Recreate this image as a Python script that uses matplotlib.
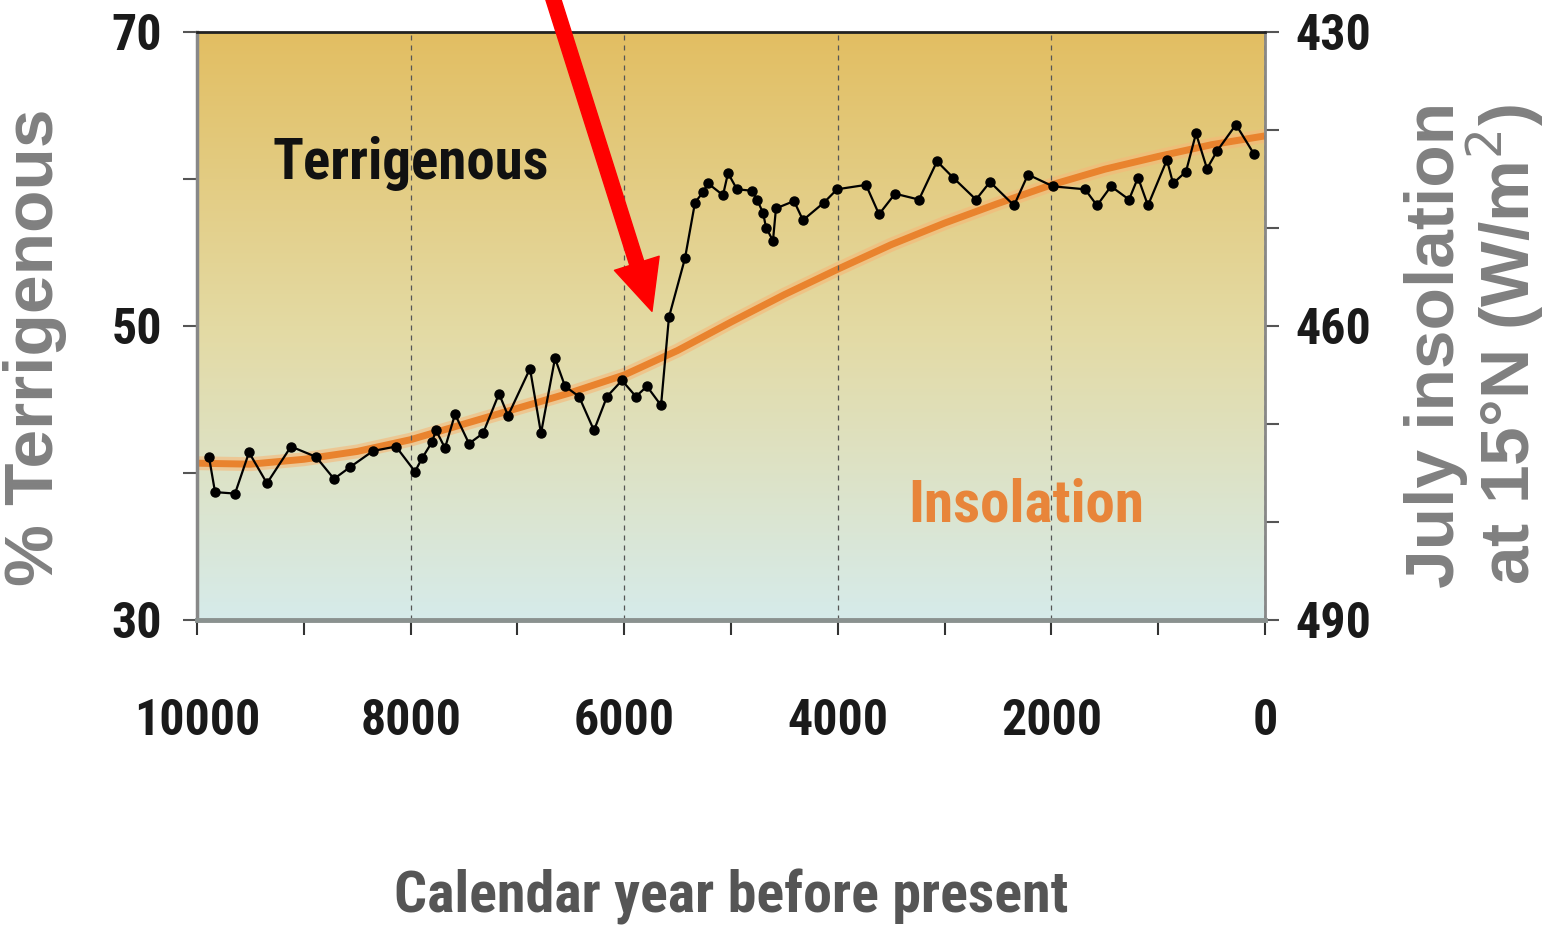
import matplotlib
matplotlib.use("Agg")
import matplotlib.pyplot as plt
import numpy as np
from matplotlib import font_manager

# Terrigenous % record vs. July insolation at 15N (last 10 kyr)

years = [9888, 9831, 9644, 9513, 9345, 9120, 8886, 8717, 8567, 8352,
         8137, 7959, 7893, 7800, 7762, 7678, 7584, 7453, 7322, 7172,
         7088, 6882, 6779, 6648, 6554, 6423, 6283, 6161, 6021, 5890,
         5787, 5655, 5581, 5431, 5337, 5262, 5215, 5075, 5028, 4944,
         4803, 4757, 4700, 4672, 4607, 4579, 4410, 4326, 4129, 4007,
         3736, 3614, 3464, 3240, 3071, 2921, 2706, 2575, 2350, 2219,
         1985, 1685, 1573, 1442, 1273, 1189, 1096, 918, 861, 740,
         646, 543, 449, 272, 103]
terrigenous = [41.1, 38.7, 38.6, 41.4, 39.3, 41.8, 41.1, 39.6, 40.4, 41.5,
               41.8, 40.1, 41.0, 42.1, 42.9, 41.7, 44.0, 42.0, 42.7, 45.4,
               43.9, 47.1, 42.7, 47.8, 45.9, 45.2, 42.9, 45.2, 46.3, 45.2,
               45.9, 44.6, 50.6, 54.6, 58.4, 59.1, 59.7, 58.9, 60.4, 59.3,
               59.2, 58.6, 57.7, 56.7, 55.8, 58.0, 58.5, 57.2, 58.4, 59.3,
               59.6, 57.6, 59.0, 58.6, 61.2, 60.1, 58.6, 59.8, 58.2, 60.3,
               59.5, 59.3, 58.2, 59.5, 58.6, 60.1, 58.2, 61.3, 59.7, 60.5,
               63.1, 60.7, 61.9, 63.7, 61.7]

ins_years = [10000, 9500, 9000, 8500, 8000, 7500, 7000, 6500, 6000, 5500,
             5000, 4500, 4000, 3500, 3000, 2500, 2000, 1500, 1000, 500, 0]
insolation = [474.0, 474.1, 473.6, 472.8, 471.6, 470.0, 468.4, 466.8, 465.0, 462.5,
              459.6, 456.8, 454.2, 451.7, 449.5, 447.5, 445.6, 444.0, 442.7, 441.5, 440.6]

left_ticks = [30, 40, 50, 60, 70]
left_labels = ["30", "", "50", "", "70"]
right_ticks = [430, 440, 450, 460, 470, 480, 490]
right_labels = ["430", "", "", "460", "", "", "490"]


def pick_narrow_font():
    # narrow bold face like the original Helvetica Condensed
    prefs = ["Liberation Sans Narrow", "Roboto Condensed", "Arimo Narrow",
             "Archivo Narrow", "Asap Condensed", "Barlow Semi Condensed"]
    faces = font_manager.fontManager.ttflist

    def wv(w):
        return 700 if w == "bold" else (400 if isinstance(w, str) else w)
    for name in prefs:
        got = [f for f in faces if f.name == name and f.style == "normal"]
        if got:
            got.sort(key=lambda f: abs(wv(f.weight) - 700))
            return font_manager.FontProperties(fname=got[0].fname)
    return font_manager.FontProperties(family="DejaVu Sans", stretch="condensed", weight="bold")


narrow_fp = pick_narrow_font()


def nfp(size):
    p = narrow_fp.copy()
    p.set_size(size)
    return p


fig = plt.figure(figsize=(15.44, 9.36), dpi=100)
renderer = fig.canvas.get_renderer()


def fit_size(s, width_px, size0=40):
    # font size that gives the text about the width it has in the original
    t = fig.text(0, 0, s, fontproperties=nfp(size0))
    w = t.get_window_extent(renderer).width
    t.remove()
    return 1.07 * size0 * width_px / w


tick_size = fit_size("10000", 118)

pos = [197 / 1544, 1 - 620 / 936, (1265 - 197) / 1544, (620 - 32) / 936]

# background gradient (gold on top, pale cyan at bottom)
bg = fig.add_axes(pos, zorder=0)
stops = np.array([[214, 235, 234], [228, 218, 163], [226, 190, 98]]) / 255
t = np.linspace(0, 1, 256)
grad = np.stack([np.interp(t, [0, 0.5, 1], stops[:, k]) for k in range(3)], axis=-1)
bg.imshow(grad[:, None, :], extent=[0, 1, 0, 1], aspect="auto", origin="lower")
bg.axis("off")

ax = fig.add_axes(pos)
ax2 = ax.twinx()
ax.set_zorder(3)
ax2.set_zorder(2)
ax.patch.set_visible(False)
ax2.patch.set_visible(False)

# insolation curve (right axis, inverted)
ax2.plot(ins_years, insolation, color="#f7b777", lw=10, alpha=0.6, solid_capstyle="butt")
ax2.plot(ins_years, insolation, color="#e9832e", lw=5, solid_capstyle="butt")
ax2.set_ylim(490, 430)
ax2.set_yticks(right_ticks)
ax2.set_yticklabels(right_labels)

# terrigenous record
ax.plot(years, terrigenous, color="black", lw=1.6, marker="o", markersize=6.5)
ax.set_xlim(10000, 0)
ax.set_ylim(30, 70)
ax.set_yticks(left_ticks)
ax.set_yticklabels(left_labels)
ax.set_xticks(range(10000, -1, -2000))
ax.set_xticks(range(9000, 0, -2000), minor=True)
ax.xaxis.grid(True, which="major", linestyle=(0, (4, 4)), color="#555555", lw=0.9)

for s in ["left", "bottom", "right", "top"]:
    ax2.spines[s].set_visible(False)
ax.spines["right"].set_visible(False)
ax.spines["top"].set_color("#222222")
ax.spines["top"].set_linewidth(2)
ax.spines["left"].set_color("#888888")
ax.spines["left"].set_linewidth(2.5)
ax.spines["bottom"].set_color("#8a918f")
ax.spines["bottom"].set_linewidth(3.5)
ax2.spines["right"].set_visible(True)
ax2.spines["right"].set_color("#888888")
ax2.spines["right"].set_linewidth(2)

ax.tick_params(axis="x", which="both", direction="out", length=11, width=1.5,
               color="#333333", pad=45)
ax.tick_params(axis="y", direction="out", length=10, width=1.5, color="#555555", pad=15)
ax2.tick_params(axis="y", direction="out", length=10, width=1.5, color="#555555", pad=12)
for lab in ax.get_xticklabels() + ax.get_yticklabels() + ax2.get_yticklabels():
    lab.set_fontproperties(nfp(tick_size))
    lab.set_color("#1a1a1a")

ax.text(0.2, 0.776, "Terrigenous", transform=ax.transAxes, ha="center", va="center",
        fontproperties=nfp(fit_size("Terrigenous", 258)), color="#111111")
ax.text(0.776, 0.195, "Insolation", transform=ax.transAxes, ha="center", va="center",
        fontproperties=nfp(fit_size("Insolation", 220)), color="#e8853a")

fig.text(35 / 1544, 1 - 347 / 936, "% Terrigenous", rotation=90, ha="center", va="center",
         family=["Liberation Sans", "DejaVu Sans"], weight="bold", size=50, color="#808080")
fig.text(1475 / 1544, 1 - 345 / 936, "July insolation\nat 15°N (W/m$^2$)", rotation=90,
         ha="center", va="center", multialignment="center", linespacing=0.95,
         family=["Liberation Sans", "DejaVu Sans"], weight="bold", size=50, color="#808080")
fig.text(731 / 1544, 1 - 897 / 936, "Calendar year before present", ha="center", va="center",
         fontproperties=nfp(fit_size("Calendar year before present", 630)), color="#555555")

# red arrow pointing at the abrupt shift
ax.annotate("", xy=(5740, 51.0), xytext=(6680, 72.6), xycoords="data",
            annotation_clip=False,
            arrowprops=dict(arrowstyle="simple,tail_width=0.42,head_width=1.35,head_length=1.45",
                            mutation_scale=25, color="#ff0000", shrinkA=0, shrinkB=0))

fig.savefig("out.png", dpi=100)
